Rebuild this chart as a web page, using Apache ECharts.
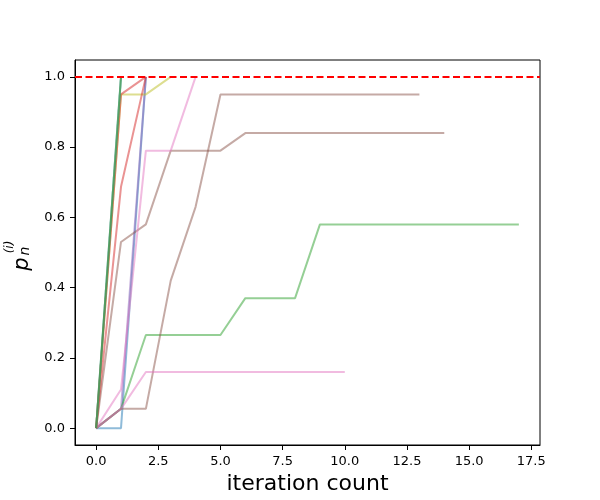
<!DOCTYPE html>
<html>
<head>
<meta charset="utf-8">
<script src="https://cdn.jsdelivr.net/npm/echarts@6/dist/echarts.min.js"></script>
<style>
  html, body { margin: 0; padding: 0; background: #fff; }
  #main { width: 600px; height: 500px; }
</style>
</head>
<body>
<div id="main"></div>
<script>
"use strict";

// y values per iteration (x = index)
var greenY  = [0, 0.055, 0.265, 0.265, 0.265, 0.265, 0.37, 0.37, 0.37, 0.58, 0.58, 0.58, 0.58, 0.58, 0.58, 0.58, 0.58, 0.58];
var brownAY = [0, 0.53, 0.58, 0.79, 0.79, 0.79, 0.84, 0.84, 0.84, 0.84, 0.84, 0.84, 0.84, 0.84, 0.84];
var brownBY = [0, 0.055, 0.055, 0.42, 0.63, 0.95, 0.95, 0.95, 0.95, 0.95, 0.95, 0.95, 0.95, 0.95];
var pinkBY  = [0, 0.055, 0.16, 0.16, 0.16, 0.16, 0.16, 0.16, 0.16, 0.16, 0.16];
var pinkAY  = [0, 0.11, 0.79, 0.79, 1.0];
var oliveY  = [0, 0.95, 0.95, 1.0];
var redAY   = [0, 0.687, 1.0];
var redBY   = [0, 0.95, 1.0];
var blueY   = [0, 0, 1.0];
var purpleY = [0, 0.055, 1.0];
var cyanY   = [0, 1.0];
var grayY   = [0, 1.0];
var green2Y = [0, 1.0];

var xTicks = [0, 2.5, 5, 7.5, 10, 12.5, 15, 17.5];
var yTicks = [0, 0.2, 0.4, 0.6, 0.8, 1.0];
var targetY = 1.0;

var lines = [
    { name: 'blue',   color: '#1f77b4', ys: blueY },
    { name: 'purple', color: '#9467bd', ys: purpleY },
    { name: 'green',  color: '#2ca02c', ys: greenY },
    { name: 'brownA', color: '#8c564b', ys: brownAY },
    { name: 'brownB', color: '#8c564b', ys: brownBY },
    { name: 'pinkA',  color: '#e377c2', ys: pinkAY },
    { name: 'pinkB',  color: '#e377c2', ys: pinkBY },
    { name: 'olive',  color: '#bcbd22', ys: oliveY },
    { name: 'redA',   color: '#d62728', ys: redAY },
    { name: 'redB',   color: '#d62728', ys: redBY },
    { name: 'cyan',   color: '#17becf', ys: cyanY },
    { name: 'gray',   color: '#7f7f7f', ys: grayY },
    { name: 'green2', color: '#2ca02c', ys: green2Y }
];

var myChart = echarts.init(document.getElementById('main'));

var series = lines.map(function (l) {
    return {
        name: l.name,
        type: 'line',
        showSymbol: false,
        silent: true,
        animation: false,
        data: l.ys.map(function (y, i) { return [i, y]; }),
        lineStyle: { color: l.color, width: 2, opacity: 0.5 }
    };
});

series.push({
    name: 'target',
    type: 'line',
    data: [],
    silent: true,
    markLine: {
        symbol: 'none',
        silent: true,
        animation: false,
        label: { show: false },
        lineStyle: { color: '#ff0000', width: 2, type: [7, 3.5], opacity: 1 },
        data: [{ yAxis: targetY }]
    }
});

var fontFam = 'DejaVu Sans';

var option = {
    animation: false,
    grid: {
        left: 75, right: 60, top: 60, bottom: 55,
        outerBoundsMode: 'none',
        containLabel: false,
        show: true, borderColor: '#000', borderWidth: 1
    },
    xAxis: {
        type: 'value',
        min: -0.85,
        max: 17.85,
        name: 'iteration count',
        nameLocation: 'middle',
        nameGap: 27,
        nameTextStyle: { fontFamily: fontFam, fontSize: 22, color: '#000' },
        splitLine: { show: false },
        axisLine: { show: true, onZero: false, lineStyle: { color: '#000' } },
        axisTick: { show: true, length: 5, customValues: xTicks, lineStyle: { color: '#000' } },
        axisLabel: {
            customValues: xTicks,
            margin: 10,
            fontFamily: fontFam, fontSize: 13, color: '#000',
            formatter: function (v) { return v.toFixed(1); }
        }
    },
    yAxis: {
        type: 'value',
        min: -0.048,
        max: 1.048,
        splitLine: { show: false },
        axisLine: { show: true, onZero: false, lineStyle: { color: '#000' } },
        axisTick: { show: true, length: 5, customValues: yTicks, lineStyle: { color: '#000' } },
        axisLabel: {
            customValues: yTicks,
            margin: 10,
            fontFamily: fontFam, fontSize: 13, color: '#000',
            formatter: function (v) { return v.toFixed(1); }
        }
    },
    graphic: [{
        type: 'group',
        x: 26,
        y: 264,
        rotation: Math.PI / 2,
        children: [
            { type: 'text', x: 0, y: -3, style: { text: 'p', font: 'italic 21px "DejaVu Sans"', fill: '#000', align: 'center', verticalAlign: 'middle' } },
            { type: 'text', x: 13, y: -1, style: { text: 'n', font: 'italic 14px "DejaVu Sans"', fill: '#000', align: 'center', verticalAlign: 'middle' } },
            { type: 'text', x: 17, y: -16, style: { text: '(i)', font: 'italic 12px "DejaVu Sans"', fill: '#000', align: 'center', verticalAlign: 'middle' } }
        ]
    }],
    series: series
};
myChart.setOption(option);
</script>
</body>
</html>
